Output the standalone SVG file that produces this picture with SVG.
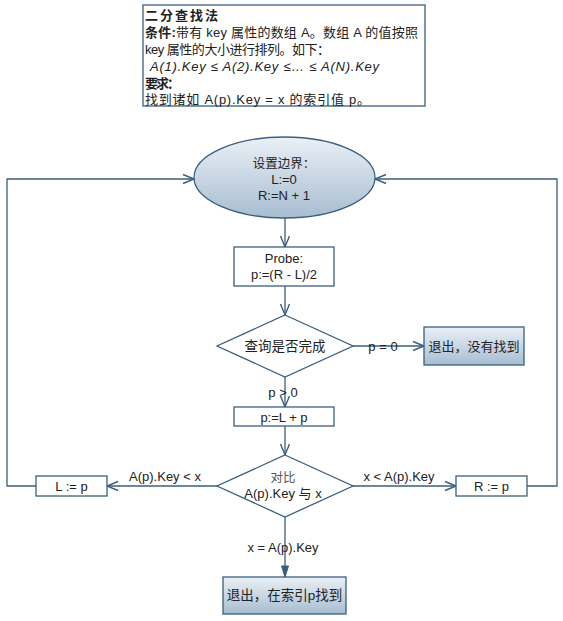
<svg xmlns="http://www.w3.org/2000/svg" width="563" height="621" viewBox="0 0 563 621">
<style>
.t{font-family:"Liberation Sans","Noto Sans CJK SC",sans-serif;fill:#222;}
.s{stroke:#3b5e7e;stroke-width:1.3;}
.box{fill:#fff;}
.g{fill:url(#grad);}
.c{fill:none;stroke:#3b5e7e;stroke-width:1.3;}
</style>
<defs>
<linearGradient id="grad" x1="0" y1="0" x2="0" y2="1">
<stop offset="0" stop-color="#eaf0f6"/>
<stop offset="1" stop-color="#a7bdd1"/>
</linearGradient>
<marker id="open" markerUnits="userSpaceOnUse" markerWidth="14" markerHeight="12" viewBox="-12 -6 14 12" refX="0" refY="0" orient="auto" overflow="visible">
<path d="M-11,-4.5 L0,0 L-11,4.5" fill="none" stroke="#3b5e7e" stroke-width="1.4"/>
</marker>
<marker id="fill" markerUnits="userSpaceOnUse" markerWidth="14" markerHeight="12" viewBox="-12 -6 14 12" refX="0" refY="0" orient="auto" overflow="visible">
<path d="M-11,-3.5 L0,0 L-11,3.5 Z" fill="#3b5e7e" stroke="#3b5e7e" stroke-width="1"/>
</marker>
</defs>
<rect width="563" height="621" fill="#fff"/>

<g id="note">
<rect x="143" y="5" width="282" height="101" fill="#fff" stroke="#3b5e7e" stroke-width="1.3"/>
<text class="t" x="145" y="20" font-size="13" font-weight="bold" textLength="73" lengthAdjust="spacing">二分查找法</text>
<text class="t" x="145" y="37" font-size="13" textLength="273" lengthAdjust="spacing"><tspan font-weight="bold">条件:</tspan>带有 key 属性的数组 A。数组 A 的值按照</text>
<text class="t" x="145" y="54" font-size="13" textLength="185" lengthAdjust="spacing">key 属性的大小进行排列。如下：</text>
<text class="t" x="150" y="71" font-size="13" font-style="italic" textLength="229" lengthAdjust="spacing">A(1).Key ≤ A(2).Key ≤… ≤ A(N).Key</text>
<text class="t" x="145" y="88" font-size="13" font-weight="bold" textLength="35" lengthAdjust="spacing">要求：</text>
<text class="t" x="145" y="104" font-size="13" textLength="225" lengthAdjust="spacing">找到诸如 A(p).Key = x 的索引值 p。</text>
</g>

<g id="connectors">
<line class="c" x1="285" y1="218" x2="285" y2="247" marker-end="url(#open)"/>
<line class="c" x1="285" y1="286" x2="285" y2="315" marker-end="url(#open)"/>
<line class="c" x1="353" y1="346" x2="424" y2="346" marker-end="url(#open)"/>
<line class="c" x1="285" y1="377" x2="285" y2="407" marker-end="url(#open)"/>
<line class="c" x1="285" y1="426" x2="285" y2="455" marker-end="url(#open)"/>
<line class="c" x1="217" y1="486" x2="107" y2="486" marker-end="url(#open)"/>
<line class="c" x1="353" y1="486" x2="456" y2="486" marker-end="url(#open)"/>
<line class="c" x1="285" y1="517" x2="285" y2="577" marker-end="url(#fill)"/>
<polyline class="c" points="36,486 7,486 7,179 194,179" marker-end="url(#open)"/>
<polyline class="c" points="527,486 557,486 557,179 375,179" marker-end="url(#open)"/>
<text class="t" x="383" y="350.5" font-size="13" text-anchor="middle">p = 0</text>
<text class="t" x="283" y="396.5" font-size="13" text-anchor="middle">p &gt; 0</text>
<text class="t" x="165" y="481" font-size="13" text-anchor="middle">A(p).Key &lt; x</text>
<text class="t" x="399" y="481" font-size="13" text-anchor="middle">x &lt; A(p).Key</text>
<text class="t" x="283" y="551.5" font-size="13" text-anchor="middle">x = A(p).Key</text>
</g>

<g id="start">
<ellipse cx="284.5" cy="177.5" rx="90.5" ry="40.5" class="g s"/>
<text class="t" x="284" y="167.5" font-size="12.5" text-anchor="middle">设置边界：</text>
<text class="t" x="284" y="183.5" font-size="13" text-anchor="middle">L:=0</text>
<text class="t" x="284" y="199.5" font-size="13" text-anchor="middle">R:=N + 1</text>
</g>

<g id="probe">
<rect x="234" y="247" width="100" height="39" class="box s"/>
<text class="t" x="284" y="262.5" font-size="13" text-anchor="middle">Probe:</text>
<text class="t" x="284" y="278.5" font-size="13" text-anchor="middle">p:=(R - L)/2</text>
</g>

<g id="check">
<polygon points="285,315 353,346 285,377 217,346" class="box s"/>
<text class="t" x="285" y="351" font-size="13.5" text-anchor="middle">查询是否完成</text>
</g>

<g id="notfound">
<rect x="424" y="327" width="100" height="38" class="g s"/>
<text class="t" x="474" y="351" font-size="13" text-anchor="middle">退出，没有找到</text>
</g>

<g id="update">
<rect x="234" y="407" width="100" height="19" class="box s"/>
<text class="t" x="284" y="421.5" font-size="13" text-anchor="middle">p:=L + p</text>
</g>

<g id="compare">
<polygon points="285,455 353,486 285,517 217,486" class="box s"/>
<text class="t" x="283" y="482" font-size="12.5" text-anchor="middle" style="fill:#555">对比</text>
<text class="t" x="283" y="498" font-size="13" text-anchor="middle">A(p).Key 与 x</text>
</g>

<g id="setL">
<rect x="36" y="476" width="71" height="20" class="box s"/>
<text class="t" x="71.5" y="490.5" font-size="13" text-anchor="middle">L := p</text>
</g>

<g id="setR">
<rect x="456" y="476" width="71" height="20" class="box s"/>
<text class="t" x="491.5" y="490.5" font-size="13" text-anchor="middle">R := p</text>
</g>

<g id="found">
<rect x="223" y="577" width="123" height="37" class="g s"/>
<text class="t" x="284.5" y="600" font-size="13.5" text-anchor="middle">退出，在索引p找到</text>
</g>
</svg>
